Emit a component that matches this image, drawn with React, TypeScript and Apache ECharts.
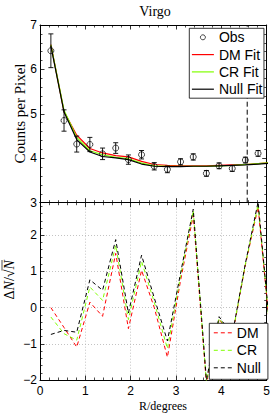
import React, { useEffect, useRef } from "react";
import * as echarts from "echarts";

// Radial bins (degrees) of the observed profile
const radius = [0.24, 0.53, 0.81, 1.1, 1.38, 1.67, 1.95, 2.24, 2.52, 2.81, 3.1, 3.38, 3.67, 3.95, 4.24, 4.53, 4.81];
const obsCounts = [6.42, 4.85, 4.32, 4.31, 4.1, 4.23, 3.97, 4.08, 3.82, 3.75, 3.92, 4.03, 3.66, 3.83, 3.77, 3.96, 4.11];
const obsErr = [0.38, 0.24, 0.18, 0.16, 0.13, 0.12, 0.105, 0.095, 0.083, 0.075, 0.07, 0.07, 0.065, 0.065, 0.065, 0.065, 0.065];

// Model / residual sampling (one bin beyond the plotted range)
const fitRadius = [0.24, 0.53, 0.81, 1.1, 1.38, 1.67, 1.95, 2.24, 2.52, 2.81, 3.1, 3.38, 3.67, 3.95, 4.24, 4.53, 4.81, 5.1];
const dmFit = [6.56, 5.05, 4.52, 4.22, 4.12, 4.06, 4.03, 3.93, 3.86, 3.84, 3.83, 3.83, 3.83, 3.84, 3.85, 3.86, 3.88, 3.9];
const crFit = [6.55, 5.08, 4.47, 4.17, 4.08, 4.02, 3.99, 3.89, 3.83, 3.82, 3.82, 3.82, 3.82, 3.83, 3.84, 3.86, 3.88, 3.9];
const nullFit = [6.53, 5.04, 4.42, 4.14, 4.04, 4.01, 3.97, 3.87, 3.82, 3.81, 3.81, 3.82, 3.82, 3.83, 3.84, 3.85, 3.87, 3.89];

const dmResid = [0.0, -0.55, -1.09, 0.15, -0.24, 1.5, -0.58, 1.03, 0.0, -1.37, 0.75, 2.55, -2.1, -0.32, -0.8, 1.18, 2.78, -1.0];
const crResid = [-0.26, -0.72, -0.9, 0.57, 0.2, 1.72, -0.33, 1.28, 0.15, -1.13, 0.88, 2.68, -2.05, -0.3, -0.78, 1.2, 2.85, -1.0];
const nullResid = [-0.74, -0.63, -0.68, 0.77, 0.48, 1.88, -0.15, 1.45, 0.27, -0.92, 0.95, 2.72, -2.0, -0.25, -0.76, 1.22, 2.92, -0.98];

const cutoffRadius = 4.57;

const xRange = [0, 5];
const topYRange = [3, 7];
const botYRange = [-2, 2.9];

const SANS = "Liberation Sans, Arial, sans-serif";
const SERIF = "Liberation Serif, Times New Roman, serif";
const RED = "#ff0000";
const GREEN = "#80ff00";
const BLACK = "#000000";

const zip = (xs: number[], ys: number[]) => xs.map((x, i) => [x, ys[i]]);

function axisBase(showLabel: boolean) {
  return {
    axisLine: { show: true, onZero: false, lineStyle: { color: "#000", width: 1 } },
    axisTick: { show: true, inside: true, length: 4.5, lineStyle: { color: "#000", width: 0.8 } },
    minorTick: { show: true, splitNumber: 5, length: 2.5, lineStyle: { color: "#000", width: 0.7 } },
    axisLabel: {
      show: showLabel,
      fontSize: 12,
      fontFamily: SANS,
      color: "#000",
      formatter: (v: number) => String(v).replace("-", "\u2212"),
    },
    splitLine: { show: false },
  };
}

export default function App() {
  const ref = useRef<HTMLDivElement>(null);

  useEffect(() => {
    if (!ref.current) return;
    const chart = echarts.init(ref.current, undefined, { renderer: "svg" });

    const gridL = 40;
    const gridR = 7.3;
    const topTop = 25;
    const mid = 202.7;
    const botBottom = 380;

    const dotted = { show: true, lineStyle: { color: "#b4b4b4", width: 0.8, type: [1, 2] } };

    const option: any = {
      animation: false,
      backgroundColor: "#fff",
      grid: [
        { left: gridL, right: gridR, top: topTop, height: mid - topTop },
        { left: gridL, right: gridR, top: mid, height: botBottom - mid },
      ],
      xAxis: [
        { type: "value", gridIndex: 0, position: "bottom", min: xRange[0], max: xRange[1], interval: 1, ...axisBase(false) },
        { type: "value", gridIndex: 0, position: "top", min: xRange[0], max: xRange[1], interval: 1, ...axisBase(false) },
        {
          type: "value", gridIndex: 1, position: "bottom", min: xRange[0], max: xRange[1], interval: 1,
          ...axisBase(true),
          axisLabel: { ...axisBase(true).axisLabel, margin: 5 },
          splitLine: dotted,
        },
        { type: "value", gridIndex: 1, position: "top", min: xRange[0], max: xRange[1], interval: 1, ...axisBase(false) },
      ],
      yAxis: [
        {
          type: "value", gridIndex: 0, position: "left", min: topYRange[0], max: topYRange[1], interval: 1,
          ...axisBase(true),
          axisLabel: { ...axisBase(true).axisLabel, margin: 3 },
        },
        { type: "value", gridIndex: 0, position: "right", min: topYRange[0], max: topYRange[1], interval: 1, ...axisBase(false) },
        {
          type: "value", gridIndex: 1, position: "left", min: botYRange[0], max: botYRange[1], interval: 1,
          ...axisBase(true),
          axisLabel: { ...axisBase(true).axisLabel, margin: 3, showMaxLabel: false },
          splitLine: dotted,
        },
        { type: "value", gridIndex: 1, position: "right", min: botYRange[0], max: botYRange[1], interval: 1, ...axisBase(false) },
      ],
      legend: [
        {
          orient: "vertical",
          left: 189.3,
          top: 28.3,
          itemWidth: 22,
          itemHeight: 5,
          itemGap: 3.3,
          padding: [2, 1.5, 2, 2],
          backgroundColor: "#fff",
          borderColor: "#000",
          borderWidth: 0.8,
          selectedMode: false,
          lineStyle: { width: 1.2 },
          textStyle: { fontSize: 14, fontFamily: SANS, color: "#000", lineHeight: 14 },
          data: [
            { name: "Obs", icon: "circle", itemStyle: { color: "#fff", borderColor: "#000", borderWidth: 0.9 } },
            { name: "DM Fit", itemStyle: { opacity: 0 } },
            { name: "CR Fit", itemStyle: { opacity: 0 } },
            { name: "Null Fit", itemStyle: { opacity: 0 } },
          ],
          z: 20,
        },
        {
          orient: "vertical",
          left: 209.3,
          top: 323.3,
          itemWidth: 18,
          itemHeight: 5,
          itemGap: 3.5,
          padding: [2.5, 7, 4.5, 4],
          backgroundColor: "#fff",
          borderColor: "#000",
          borderWidth: 0.8,
          selectedMode: false,
          lineStyle: { width: 1 },
          textStyle: { fontSize: 14, fontFamily: SANS, color: "#000", lineHeight: 14 },
          data: [
            { name: "DM", itemStyle: { opacity: 0 } },
            { name: "CR", itemStyle: { opacity: 0 } },
            { name: "Null", itemStyle: { opacity: 0 } },
          ],
          z: 20,
        },
      ],
      series: [
        {
          name: "DM Fit", type: "line", xAxisIndex: 0, yAxisIndex: 0, symbol: "none",
          data: zip(fitRadius, dmFit), lineStyle: { color: RED, width: 1.2 }, itemStyle: { color: RED }, z: 3,
        },
        {
          name: "CR Fit", type: "line", xAxisIndex: 0, yAxisIndex: 0, symbol: "none",
          data: zip(fitRadius, crFit), lineStyle: { color: GREEN, width: 1.2 }, itemStyle: { color: GREEN }, z: 3,
        },
        {
          name: "Null Fit", type: "line", xAxisIndex: 0, yAxisIndex: 0, symbol: "none",
          data: zip(fitRadius, nullFit), lineStyle: { color: BLACK, width: 1.2 }, itemStyle: { color: BLACK }, z: 3,
        },
        {
          name: "Obs err", type: "custom", xAxisIndex: 0, yAxisIndex: 0,
          data: radius.map((r, i) => [r, obsCounts[i], obsErr[i]]),
          encode: { x: 0, y: 1 },
          z: 4,
          renderItem: (_p: any, api: any) => {
            const x = api.value(0);
            const y = api.value(1);
            const e = api.value(2);
            const hi = api.coord([x, y + e]);
            const lo = api.coord([x, y - e]);
            const cw = 2.5;
            const st = { stroke: "#000", lineWidth: 0.9 };
            return {
              type: "group",
              children: [
                { type: "line", shape: { x1: hi[0], y1: hi[1], x2: lo[0], y2: lo[1] }, style: st },
                { type: "line", shape: { x1: hi[0] - cw, y1: hi[1], x2: hi[0] + cw, y2: hi[1] }, style: st },
                { type: "line", shape: { x1: lo[0] - cw, y1: lo[1], x2: lo[0] + cw, y2: lo[1] }, style: st },
              ],
            };
          },
        },
        {
          name: "Obs", type: "scatter", xAxisIndex: 0, yAxisIndex: 0, symbol: "circle", symbolSize: 6,
          data: zip(radius, obsCounts),
          itemStyle: { color: "rgba(255,255,255,0)", borderColor: "#000", borderWidth: 0.9 },
          z: 5,
        },
        {
          name: "cutoff", type: "line", xAxisIndex: 0, yAxisIndex: 0, symbol: "none",
          data: [[cutoffRadius, topYRange[0]], [cutoffRadius, topYRange[1]]],
          lineStyle: { color: "#000", width: 1, type: [5, 3] }, z: 2,
        },
        {
          name: "DM", type: "line", xAxisIndex: 2, yAxisIndex: 2, symbol: "none",
          data: zip(fitRadius, dmResid), lineStyle: { color: RED, width: 1, type: [4, 3] }, itemStyle: { color: RED }, z: 3,
        },
        {
          name: "CR", type: "line", xAxisIndex: 2, yAxisIndex: 2, symbol: "none",
          data: zip(fitRadius, crResid), lineStyle: { color: GREEN, width: 1, type: [4, 3] }, itemStyle: { color: GREEN }, z: 3,
        },
        {
          name: "Null", type: "line", xAxisIndex: 2, yAxisIndex: 2, symbol: "none",
          data: zip(fitRadius, nullResid), lineStyle: { color: BLACK, width: 1, type: [4, 3] }, itemStyle: { color: BLACK }, z: 3,
        },
      ],
      graphic: [
        {
          type: "text", x: 155, y: 11,
          style: { text: "Virgo", font: `14px ${SERIF}`, fill: "#000", align: "center", verticalAlign: "middle" },
        },
        {
          type: "text", x: 20, y: 113.5, rotation: Math.PI / 2,
          style: { text: "Counts per Pixel", font: `15px ${SERIF}`, fill: "#000", align: "center", verticalAlign: "middle" },
        },
        {
          type: "text", x: 163, y: 405.5,
          style: { text: "R/degrees", font: `12px ${SERIF}`, fill: "#000", align: "center", verticalAlign: "middle" },
        },
        {
          type: "group", x: 9, y: 280, rotation: Math.PI / 2,
          children: [
            {
              type: "text", x: -19.4, y: 0,
              style: {
                text: "{a|\u0394}{i|N}{a|/\u221A}{i|N}",
                align: "left", verticalAlign: "middle", fill: "#000",
                rich: {
                  a: { fontSize: 14, fontFamily: SERIF, fill: "#000" },
                  i: { fontSize: 14, fontFamily: SERIF, fontStyle: "italic", fill: "#000" },
                },
              },
            },
            { type: "line", shape: { x1: 9.5, y1: -7, x2: 20, y2: -7 }, style: { stroke: "#000", lineWidth: 0.7 } },
          ],
        },
      ],
    };

    chart.setOption(option);
    return () => chart.dispose();
  }, []);

  return <div ref={ref} style={{ position: "fixed", left: 0, top: 0, width: 274, height: 415 }} />;
}
